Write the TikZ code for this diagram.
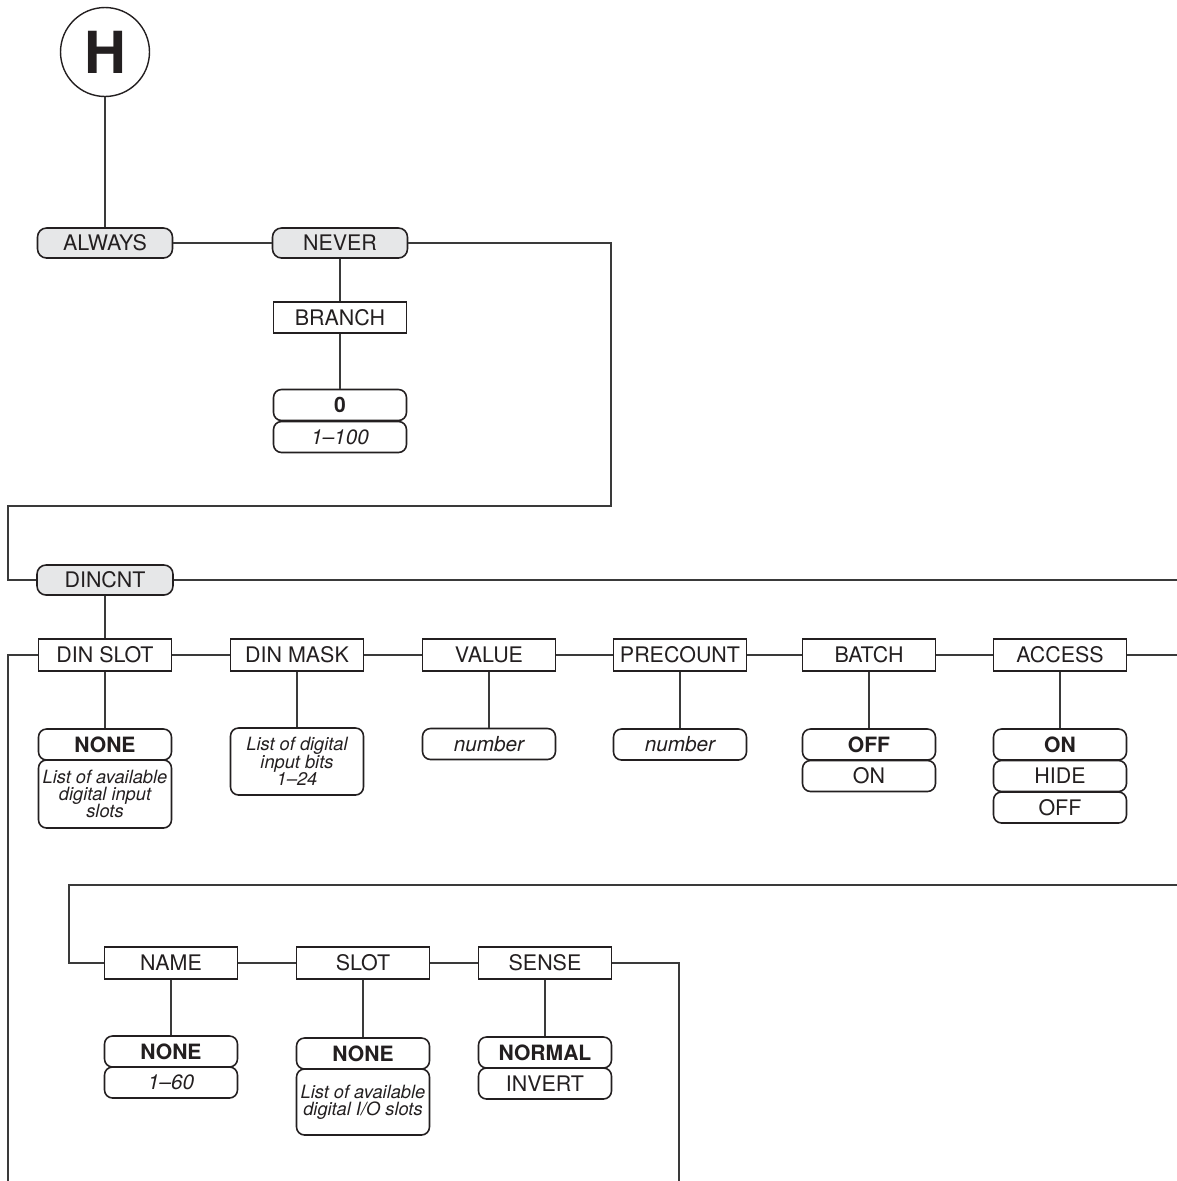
\documentclass[tikz,border=0pt]{standalone}
\usepackage{fontspec}
\setmainfont{TeX Gyre Heros}
\usetikzlibrary{calc}
\definecolor{menufill}{HTML}{E6E7E8}
\definecolor{ink}{HTML}{231F20}
\definecolor{wire}{HTML}{3A3A3A}
\tikzset{
  menu/.style={draw=ink,fill=menufill,rounded corners=1.8mm,line width=0.9pt,minimum width=2.7cm,minimum height=0.6cm,inner sep=1pt,font=\fontsize{12.2}{13}\selectfont,text=ink}, % top level
  param/.style={draw=ink,line width=0.9pt,minimum width=2.66cm,minimum height=0.63cm,inner sep=1pt,font=\fontsize{12.2}{13}\selectfont,text=ink}, % parameter
  opt/.style={draw=ink,rounded corners=1.6mm,line width=0.9pt,minimum width=2.66cm,minimum height=0.62cm,inner sep=1pt,font=\fontsize{12.2}{13}\selectfont,text=ink},
  dflt/.style={opt,font=\fontsize{12}{13}\selectfont\bfseries},       % default value
  rng/.style={opt,font=\fontsize{11.8}{13}\selectfont\itshape},       % range
  lst/.style={opt,font=\fontsize{10.4}{9.9}\selectfont\itshape,align=center},
  link/.style={draw=wire,line width=0.8pt},
}

\begin{document}
\begin{tikzpicture}[x=0.02cm,y=-0.02cm]
  \useasboundingbox (0,0) rectangle (1177,1181);
  % entry point
  \node[circle,draw=ink,line width=0.8pt,minimum size=1.78cm,inner sep=0pt,text=ink,font=\fontsize{33}{33}\selectfont\bfseries] (hcirc) at (105,52) {H};
  \node[menu] (always) at (105,243) {ALWAYS};
  \node[menu] (never) at (340,243) {NEVER};
  \node[param] (branch) at (340,317.5) {BRANCH};
  \node[dflt] (brdef) at (340,405) {0};
  \node[rng] (brrng) at (340,437) {1–100};
  \draw[link] (hcirc) -- (always); \draw[link] (always) -- (never);
  \draw[link] (never) -- (branch); \draw[link] (branch) -- (brdef);
  \coordinate (nvr) at (611,506); \coordinate (lft) at (8,506);
  % DINCNT menu
  \node[menu,minimum width=2.72cm] (dincnt) at (105,580) {DINCNT};
  \coordinate (dout) at (1177,580);
  \draw[link] (never.east) -| (nvr) -- (lft) |- (dincnt.west);
  \draw[link] (dincnt) -- (dout);
  \node[param] (dinslot) at (105,655) {DIN SLOT};
  \node[param] (dinmask) at (297,655) {DIN MASK};
  \node[param] (value) at (489,655) {VALUE};
  \node[param] (precnt) at (680,655) {PRECOUNT};
  \node[param] (batch) at (869,655) {BATCH};
  \node[param] (access) at (1060,655) {ACCESS};
  \coordinate (aout) at (1177,655); \coordinate (lbot) at (8,1181);
  \draw[link] (dincnt) -- (dinslot); \draw[link] (dinslot.west) -| (lbot);
  \draw[link] (dinslot) -- (dinmask); \draw[link] (dinmask) -- (value);
  \draw[link] (value) -- (precnt); \draw[link] (precnt) -- (batch);
  \draw[link] (batch) -- (access); \draw[link] (access) -- (aout);
  \node[dflt] (slotdef) at (105,744.5) {NONE};
  \node[lst,minimum height=1.36cm] (slotlst) at (105,794) {List of available\\digital input\\slots};
  \node[lst,minimum height=1.34cm] (masklst) at (297,761.5) {List of digital\\input bits\\1–24};
  \node[rng] (valnum) at (489,744) {number};
  \node[rng] (prenum) at (680,744.5) {number};
  \node[dflt] (batoff) at (869,744.5) {OFF};
  \node[opt] (baton) at (869,776) {ON};
  \node[dflt] (accon) at (1060,744.5) {ON};
  \node[opt] (acchide) at (1060,776) {HIDE};
  \node[opt] (accoff) at (1060,807.5) {OFF};
  \draw[link] (dinslot) -- (slotdef); \draw[link] (dinmask) -- (masklst);
  \draw[link] (value) -- (valnum); \draw[link] (precnt) -- (prenum);
  \draw[link] (batch) -- (batoff); \draw[link] (access) -- (accon);
  % second row
  \node[param] (name) at (171,963) {NAME};
  \node[param] (slot) at (363,963) {SLOT};
  \node[param] (sense) at (545,963) {SENSE};
  \coordinate (rin) at (1177,885); \coordinate (rc) at (69,885);
  \coordinate (sbot) at (679,1181);
  \draw[link] (rin) -- (rc) |- (name.west);
  \draw[link] (name) -- (slot); \draw[link] (slot) -- (sense);
  \draw[link] (sense.east) -| (sbot);
  \node[dflt] (namedef) at (171,1051.5) {NONE};
  \node[rng] (namerng) at (171,1082.5) {1–60};
  \node[dflt] (sldef) at (363,1053.5) {NONE};
  \node[lst,minimum height=1.32cm] (sllst) at (363,1102) {List of available\\digital I/O slots};
  \node[dflt] (normal) at (545,1052.5) {NORMAL};
  \node[opt] (invert) at (545,1083.5) {INVERT};
  \draw[link] (name) -- (namedef); \draw[link] (slot) -- (sldef);
  \draw[link] (sense) -- (normal);
\end{tikzpicture}
\end{document}
